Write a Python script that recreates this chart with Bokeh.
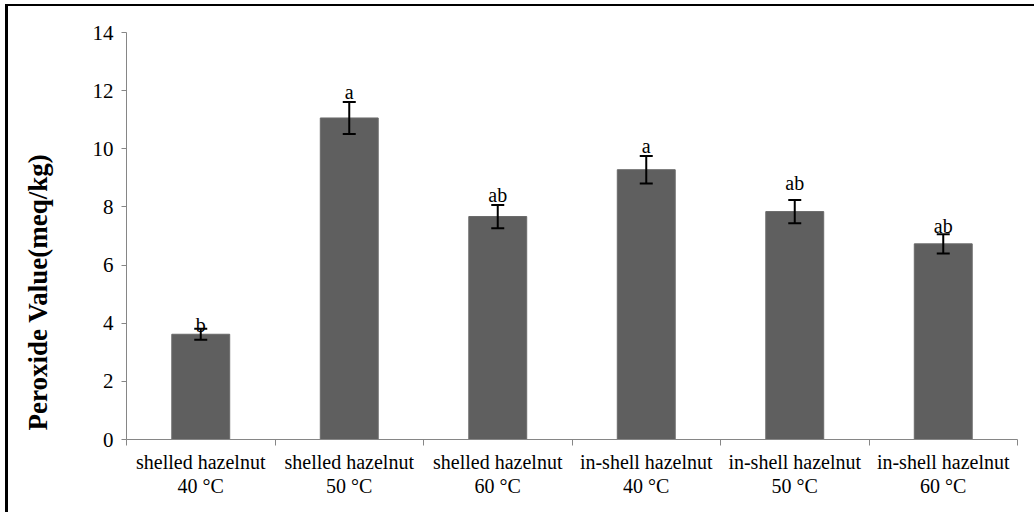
from bokeh.plotting import figure
from bokeh.models import (Range1d, FixedTicker, ColumnDataSource, Whisker, TeeHead, Title)
from bokeh.core.properties import value
from bokeh.embed import file_html
from bokeh.resources import INLINE

# ---- data ----
categories = ["shelled hazelnut\n40 °C", "shelled hazelnut\n50 °C", "shelled hazelnut\n60 °C",
              "in-shell hazelnut\n40 °C", "in-shell hazelnut\n50 °C", "in-shell hazelnut\n60 °C"]
peroxide = [3.62, 11.06, 7.67, 9.28, 7.84, 6.73]
std_err = [0.19, 0.55, 0.40, 0.47, 0.40, 0.33]
letters = ["b", "a", "ab", "a", "ab", "ab"]
letter_y = [3.69, 11.72, 8.16, 9.84, 8.57, 7.09]
y_ticks = [0, 2, 4, 6, 8, 10, 12, 14]

FONT = "Liberation Serif"
n = len(categories)
xs = [i + 0.5 for i in range(n)]

p = figure(width=1026, height=506, output_backend="svg", toolbar_location=None,
           x_range=Range1d(0, n), y_range=Range1d(0, 14),
           min_border_left=118, min_border_right=17, min_border_top=26, min_border_bottom=73)
p.frame_width = 891
p.frame_height = 407
p.styles = {"border-left": "3px solid black", "border-top": "2px solid black",
            "margin-left": "5px", "margin-top": "4px"}
p.outline_line_color = None
p.grid.visible = False
p.background_fill_color = "white"
p.border_fill_color = "white"

src = ColumnDataSource(dict(x=xs, top=peroxide, lo=[v - e for v, e in zip(peroxide, std_err)],
                            hi=[v + e for v, e in zip(peroxide, std_err)],
                            lab=letters, ly=letter_y))

p.vbar(x="x", top="top", width=0.39, source=src, fill_color="#5f5f5f", line_color="#6a6a6a")

wh = Whisker(base="x", lower="lo", upper="hi", source=src, dimension="height",
             line_color="black", line_width=2, level="overlay",
             upper_head=TeeHead(size=13, line_color="black", line_width=2),
             lower_head=TeeHead(size=13, line_color="black", line_width=2))
p.add_layout(wh)

p.text(x="x", y="ly", text="lab", source=src, text_font=value(FONT), text_font_size="20px",
       text_align="center", text_baseline="alphabetic", text_color="black", y_offset=-7)

# y axis
ya = p.yaxis[0]
ya.ticker = FixedTicker(ticks=y_ticks)
ya.axis_line_color = "#868686"
ya.major_tick_line_color = "#868686"
ya.major_tick_out = 5
ya.major_tick_in = 0
ya.minor_tick_line_color = None
ya.major_label_text_font = FONT
ya.major_label_text_font_size = "21px"
ya.major_label_text_color = "black"
ya.major_label_standoff = 8

# x axis: labels at centres, tick marks at category boundaries
xa = p.xaxis[0]
xa.ticker = FixedTicker(ticks=xs, minor_ticks=list(range(n + 1)))
xa.major_label_overrides = {x: c for x, c in zip(xs, categories)}
xa.axis_line_color = "#868686"
xa.major_tick_out = 0
xa.major_tick_in = 0
xa.major_tick_line_color = None
xa.minor_tick_line_color = "#868686"
xa.minor_tick_out = 6
xa.minor_tick_in = 0
xa.major_label_text_font = FONT
xa.major_label_text_font_size = "20px"
xa.major_label_text_line_height = 1.1
xa.major_label_text_color = "black"
xa.major_label_standoff = 5

# second (blank) line pushes the title away from the axis
ytitle = Title(text="Peroxide Value(meq/kg)\n ", align="left", offset=9, standoff=13,
               vertical_align="bottom",
               text_font=FONT, text_font_size="27px", text_font_style="bold", text_color="black")
p.add_layout(ytitle, "left")

open("out.html", "w").write(file_html(p, INLINE))
